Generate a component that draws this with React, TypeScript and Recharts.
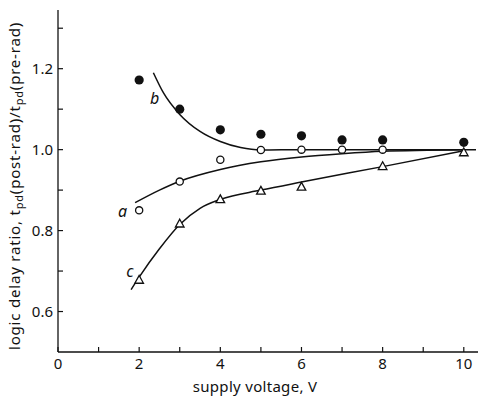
import {
  ComposedChart,
  Line,
  Scatter,
  XAxis,
  YAxis,
} from "recharts";

// measured points, supply voltage (V) vs delay ratio
const solidPts = [
  { x: 2, y: 1.172 },
  { x: 3, y: 1.1 },
  { x: 4, y: 1.049 },
  { x: 5, y: 1.038 },
  { x: 6, y: 1.034 },
  { x: 7, y: 1.024 },
  { x: 8, y: 1.024 },
  { x: 10, y: 1.018 },
];
const openPts = [
  { x: 2, y: 0.85 },
  { x: 3, y: 0.921 },
  { x: 4, y: 0.975 },
  { x: 5, y: 0.999 },
  { x: 6, y: 1.0 },
  { x: 7, y: 1.0 },
  { x: 8, y: 1.0 },
];
const triPts = [
  { x: 2, y: 0.678 },
  { x: 3, y: 0.817 },
  { x: 4, y: 0.877 },
  { x: 5, y: 0.898 },
  { x: 6, y: 0.908 },
  { x: 8, y: 0.959 },
  { x: 10, y: 0.993 },
];

// fitted curves a, b, c
const curveA = [
  { x: 1.9, y: 0.869 },
  { x: 2.5, y: 0.9 },
  { x: 3, y: 0.922 },
  { x: 4, y: 0.951 },
  { x: 5, y: 0.97 },
  { x: 6, y: 0.982 },
  { x: 7, y: 0.99 },
  { x: 8, y: 0.996 },
  { x: 10, y: 1.0 },
];
const curveB = [
  { x: 2.35, y: 1.19 },
  { x: 2.6, y: 1.14 },
  { x: 3, y: 1.087 },
  { x: 3.5, y: 1.045 },
  { x: 4, y: 1.02 },
  { x: 4.5, y: 1.005 },
  { x: 5, y: 0.999 },
  { x: 6, y: 1.0 },
  { x: 8, y: 1.0 },
  { x: 10.3, y: 1.0 },
];
const curveC = [
  { x: 1.8, y: 0.654 },
  { x: 2, y: 0.685 },
  { x: 2.5, y: 0.755 },
  { x: 3, y: 0.815 },
  { x: 3.5, y: 0.855 },
  { x: 4, y: 0.877 },
  { x: 5, y: 0.9 },
  { x: 6, y: 0.92 },
  { x: 8, y: 0.958 },
  { x: 10, y: 0.997 },
];

const curveLabels = [
  { x: 2.38, y: 1.128, t: "b" },
  { x: 1.59, y: 0.848, t: "a" },
  { x: 1.77, y: 0.7, t: "c" },
];

const xTicks = [0, 1, 2, 3, 4, 5, 6, 7, 8, 9, 10];
const yTicks = [0.6, 0.7, 0.8, 0.9, 1.0, 1.1, 1.2, 1.3];

const INK = "#111";
const FONT = "'Noto Sans', sans-serif";

const filledDot = (p: any) => <circle cx={p.cx} cy={p.cy} r={4.6} fill={INK} />;
const openDot = (p: any) => (
  <circle cx={p.cx} cy={p.cy} r={3.6} fill="#fff" stroke={INK} strokeWidth={1.3} />
);
const triangle = (p: any) => (
  <path
    d={`M${p.cx},${p.cy - 4.5} L${p.cx + 4.3},${p.cy + 3.3} L${p.cx - 4.3},${p.cy + 3.3} Z`}
    fill="#fff"
    stroke={INK}
    strokeWidth={1.3}
  />
);
const letter = (p: any) => (
  <text
    x={p.cx}
    y={p.cy}
    textAnchor="middle"
    dominantBaseline="central"
    fontSize={16}
    fontStyle="italic"
    fontFamily={FONT}
    fill={INK}
    stroke="none"
  >
    {p.payload.t}
  </text>
);

function YTitle({ viewBox }: any) {
  const cy = viewBox.y + viewBox.height / 2 + 5;
  return (
    <text
      transform={`translate(20,${cy}) rotate(-90)`}
      textAnchor="middle"
      fontSize={15}
      letterSpacing={0.8}
      fontFamily={FONT}
      fill={INK}
    >
      logic delay ratio, t
      <tspan dy={3} fontSize={11}>pd</tspan>
      <tspan dy={-3}>(post-rad)/t</tspan>
      <tspan dy={3} fontSize={11}>pd</tspan>
      <tspan dy={-3}>(pre-rad)</tspan>
    </text>
  );
}

function XTitle() {
  return (
    <text
      x={255}
      y={392}
      textAnchor="middle"
      fontSize={15}
      letterSpacing={0.3}
      fontFamily={FONT}
      fill={INK}
    >
      supply voltage, V
    </text>
  );
}

export default function App() {
  return (
    <div style={{ position: "absolute", left: 0, top: 0, background: "#fff" }}>
      <ComposedChart
        width={482}
        height={398}
        margin={{ top: 10, right: 4, bottom: 0, left: 0 }}
      >
        <XAxis
          type="number"
          dataKey="x"
          domain={[0, 10.35]}
          ticks={xTicks}
          allowDataOverflow
          height={46}
          tickSize={-5}
          tickMargin={11}
          tickFormatter={(v) => (v % 2 === 0 ? String(v) : "")}
          tick={{ fontSize: 15, fill: INK, fontFamily: FONT }}
          axisLine={{ stroke: INK, strokeWidth: 1.3 }}
          tickLine={{ stroke: INK, strokeWidth: 1.2 }}
          label={{ content: () => <XTitle /> }}
        />
        <YAxis
          type="number"
          dataKey="y"
          domain={[0.5, 1.345]}
          ticks={yTicks}
          allowDataOverflow
          width={58}
          tickSize={-5}
          tickMargin={10}
          tickFormatter={(v) =>
            Math.round(v * 10) % 2 === 0 ? Number(v).toFixed(1) : ""
          }
          tick={{ fontSize: 15, fill: INK, fontFamily: FONT }}
          axisLine={{ stroke: INK, strokeWidth: 1.3 }}
          tickLine={{ stroke: INK, strokeWidth: 1.2 }}
          label={{ content: (p: any) => <YTitle {...p} /> }}
        />
        <Line data={curveB} dataKey="y" type="monotone" stroke={INK} strokeWidth={1.5} dot={false} isAnimationActive={false} />
        <Line data={curveA} dataKey="y" type="monotone" stroke={INK} strokeWidth={1.5} dot={false} isAnimationActive={false} />
        <Line data={curveC} dataKey="y" type="monotone" stroke={INK} strokeWidth={1.5} dot={false} isAnimationActive={false} />
        <Scatter data={solidPts} dataKey="y" shape={filledDot} isAnimationActive={false} />
        <Scatter data={openPts} dataKey="y" shape={openDot} isAnimationActive={false} />
        <Scatter data={triPts} dataKey="y" shape={triangle} isAnimationActive={false} />
        <Scatter data={curveLabels} dataKey="y" shape={letter} isAnimationActive={false} />
      </ComposedChart>
    </div>
  );
}
